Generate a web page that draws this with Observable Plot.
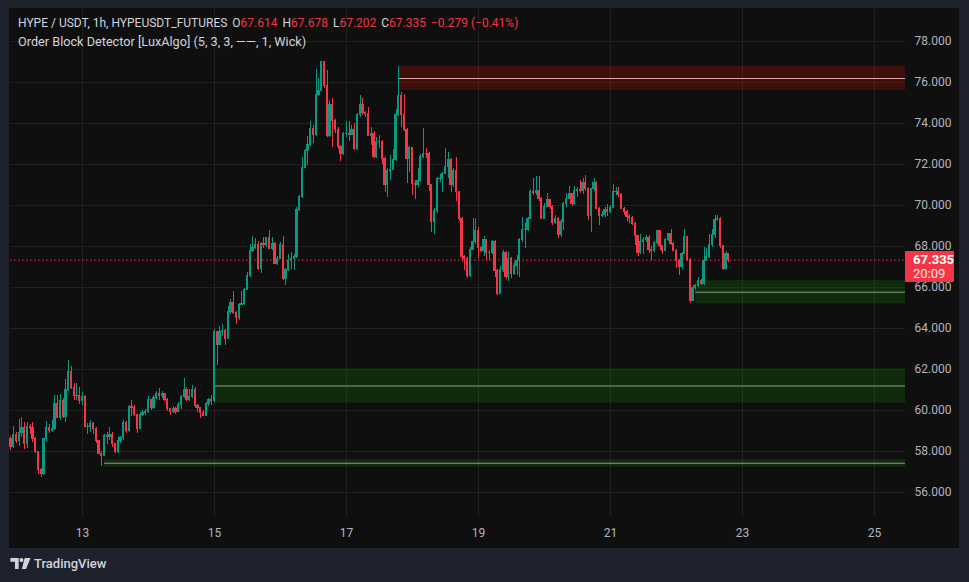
<!DOCTYPE html>
<html><head><meta charset="utf-8">
<script src="https://cdn.jsdelivr.net/npm/d3@7"></script>
<script src="https://cdn.jsdelivr.net/npm/@observablehq/plot@0.6"></script>
<style>
html,body{margin:0;padding:0;background:#1e222d;width:969px;height:582px;overflow:hidden;font-family:Roboto,"Noto Sans",sans-serif;}
#panel{position:absolute;left:9px;top:8px;width:950px;height:540px;background:#0f0f0f;}
#chart{position:absolute;left:0;top:0;}
.hdr{position:absolute;left:9px;color:#d1d4dc;line-height:16px;white-space:nowrap;}
.hdr .r{color:#f23645;}
.hdr .g{margin-left:5px;}
#pl{position:absolute;background:#f23645;color:#fff;font-size:13px;line-height:14px;padding:2px 0 2px 8px;box-sizing:border-box;border-radius:1px;}
#pl b{font-weight:700;display:block;}
#pl span{display:block;color:#ffe7e9;}
#logo{position:absolute;left:10px;top:556px;display:flex;align-items:center;color:#d1d4dc;font-size:13px;font-weight:500;}
</style></head>
<body>
<div id="panel">
  <div id="chart"></div>
  <div class="hdr" style="top:7px;font-size:12px">HYPE / USDT, 1h, HYPEUSDT_FUTURES<span class="g">O<span class="r">67.614</span></span><span class="g">H<span class="r">67.678</span></span><span class="g">L<span class="r">67.202</span></span><span class="g">C<span class="r">67.335</span></span><span class="g r">−0.279 (−0.41%)</span></div>
  <div class="hdr" style="top:26px;font-size:12.7px">Order Block Detector [LuxAlgo] (5, 3, 3, ——, 1, Wick)</div>
  <div id="pl"><b>67.335</b><span>20:09</span></div>
</div>
<div id="logo"><svg width="21" height="11" viewBox="0 0 22 12"><path d="M0 0h9v12h-4v-8h-5z" fill="#d1d4dc"/><circle cx="12" cy="2.3" r="2.2" fill="#d1d4dc"/><path d="M15.5 0h6.5l-5 12h-4.5z" fill="#d1d4dc"/></svg><span style="margin-left:3px">TradingView</span></div>
<script>
// ---- data (1h candles, first candle opens Jan 11 22:00) ----
const firstOpen = 58.62;
const closes = [
58.24,58.8,58.5,58.9,59.15,58.35,59.2,59.15,58.6,57.97,
57.1,56.88,58.6,59.15,59.0,59.1,60.33,59.65,60.44,59.7,
60.98,61.9,61.1,60.7,60.73,60.45,60.65,59.2,59.2,59.35,
59.1,58.5,57.9,57.8,58.77,58.7,58.8,58.35,57.97,58.5,
58.65,59.4,59.0,60.19,60.1,59.76,59.1,59.76,59.87,59.92,
60.49,60.13,60.62,60.81,60.7,60.81,60.52,60.08,59.95,60.08,
59.95,60.29,60.65,60.98,60.52,60.65,61.0,60.2,60.1,59.9,
59.75,60.33,60.49,60.45,63.82,63.2,63.85,63.9,63.5,64.8,
65.25,64.77,64.5,65.15,65.2,65.9,66.58,67.8,67.92,68.05,
66.9,68.13,68.05,68.4,67.9,68.1,67.15,67.4,68.05,66.42,
66.87,67.27,67.4,67.5,69.76,70.4,71.85,72.68,72.96,73.74,
73.45,75.37,75.6,76.99,75.85,73.4,74.9,74.1,73.7,72.85,
72.5,73.5,73.5,73.45,73.66,72.76,74.4,74.88,74.5,74.45,
73.4,73.5,72.36,73.1,73.1,72.28,70.98,71.7,71.75,72.2,
74.4,75.33,74.4,73.7,72.28,72.8,71.06,70.98,71.2,72.36,
72.52,72.5,70.98,69.2,69.75,71.27,71.3,71.55,71.9,72.2,
71.0,71.7,70.65,69.35,67.48,67.4,66.54,67.84,68.21,68.78,
67.93,67.77,68.33,67.67,67.7,68.21,66.8,65.7,66.83,67.67,
66.5,67.4,66.67,67.07,67.3,68.3,68.8,68.8,69.35,70.65,
70.6,70.7,70.3,69.35,69.95,70.27,69.95,69.14,69.35,68.54,
69.2,70.08,70.33,70.57,70.08,70.73,70.76,70.7,71.1,70.8,
69.5,70.8,71.1,69.84,69.5,69.56,69.8,69.7,69.9,70.65,
70.65,70.5,69.84,69.7,69.46,69.4,69.1,68.5,67.7,68.21,
68.33,68.42,67.84,67.8,68.15,68.75,68.0,67.8,68.33,68.6,
68.13,67.8,67.3,67.0,67.64,68.45,67.32,65.35,65.98,66.05,
66.34,66.18,67.3,67.5,68.05,68.54,69.27,69.35,68.0,66.9,
67.614,67.335];
const highs = [
58.75,59.2,58.95,59.55,59.65,59.4,59.4,59.3,59.4,58.7,
58.0,57.15,58.65,59.45,59.3,59.5,60.75,60.75,60.8,60.6,
61.5,62.45,62.15,61.3,61.3,61.1,60.9,60.75,59.35,59.5,
59.4,59.15,58.55,58.0,58.85,58.95,59.15,58.95,58.4,58.75,
58.75,59.5,59.45,60.25,60.5,60.25,59.8,59.9,60.0,60.05,
60.7,60.55,60.75,60.95,61.06,60.95,60.85,60.6,60.1,60.2,
60.15,60.4,60.75,61.54,61.1,61.0,61.2,61.1,60.3,60.15,
60.0,60.4,60.6,60.75,63.95,63.85,64.1,64.2,63.95,65.05,
65.4,65.8,64.85,65.2,65.8,65.95,66.75,68.1,68.5,68.4,
68.25,68.2,68.45,68.45,68.8,68.45,68.2,67.5,68.2,68.5,
66.95,67.6,67.7,67.6,69.9,70.5,72.35,72.75,73.35,74.1,
73.9,76.65,76.2,77.02,77.0,76.6,75.1,75.2,74.2,73.8,
72.95,73.55,74.1,74.1,73.9,74.0,74.5,75.37,75.2,74.6,
74.8,73.8,73.6,73.3,73.4,73.15,72.35,71.8,72.45,72.75,
74.7,76.78,75.5,75.4,73.75,72.9,72.85,71.2,71.8,72.5,
73.74,72.8,72.6,71.0,69.85,71.35,71.5,71.6,72.8,72.6,
72.3,71.8,72.35,70.7,69.4,67.55,67.45,67.95,69.35,69.35,
68.95,68.0,68.5,68.35,67.8,68.3,68.3,66.9,67.0,67.8,
67.75,67.7,67.45,67.2,67.55,68.4,69.4,69.1,69.4,70.8,
71.3,71.4,71.4,70.4,70.1,70.57,70.3,70.0,69.5,69.4,
69.3,70.15,70.6,70.95,70.6,70.95,70.9,71.2,71.3,71.45,
70.9,70.85,71.3,71.15,69.9,69.7,69.9,70.05,70.0,71.0,
70.9,70.9,70.6,69.9,69.75,69.55,69.45,69.15,68.55,68.6,
68.45,68.55,68.55,68.0,68.25,68.8,68.8,68.05,68.4,68.65,
68.85,68.2,67.85,67.35,67.7,68.85,68.5,67.4,66.1,66.15,
66.5,66.4,67.95,67.9,68.6,68.85,69.5,69.5,69.4,68.05,
67.75,67.678];
const lows = [
58.05,58.15,58.4,58.25,58.7,58.1,58.15,58.85,58.45,57.9,
56.9,56.75,56.85,58.5,58.9,58.95,59.0,59.6,59.5,59.6,
59.4,60.95,61.0,60.5,60.5,60.3,60.25,59.15,58.85,58.95,
58.85,58.4,57.85,57.25,57.75,58.35,58.55,58.2,57.9,57.92,
58.4,58.55,58.9,58.95,59.7,59.7,58.9,59.05,59.7,59.75,
59.85,60.0,60.05,60.55,60.5,60.6,60.45,59.95,59.76,59.85,
59.8,59.9,60.05,60.6,60.45,60.45,60.6,60.1,59.9,59.6,
59.7,59.7,60.2,60.25,60.4,62.2,63.15,63.6,63.15,63.45,
64.7,64.7,64.2,64.4,65.1,65.1,65.85,66.5,67.7,67.85,
66.85,66.7,67.9,67.95,67.85,67.8,67.1,67.05,67.35,66.35,
66.1,66.8,66.9,66.85,67.4,69.7,70.35,71.8,71.95,72.9,
73.0,73.35,75.3,75.55,75.7,73.3,73.3,72.85,73.5,72.75,
72.15,72.45,73.3,73.1,73.4,72.7,72.7,74.3,74.4,74.3,
73.35,72.95,72.3,72.3,72.8,72.0,70.65,70.4,71.2,71.7,
72.15,74.35,73.8,73.6,71.05,71.6,70.5,70.3,70.9,71.1,
72.3,72.3,70.7,68.7,68.6,69.6,71.1,70.65,71.5,71.3,
70.65,70.9,70.2,69.2,67.2,66.85,66.45,66.5,67.8,68.1,
67.4,67.7,67.5,67.3,67.3,67.6,66.5,65.6,65.65,66.75,
66.4,66.3,66.45,66.6,66.6,66.5,68.2,67.9,68.75,69.3,
70.5,70.5,70.2,69.3,69.3,69.9,69.8,69.0,69.05,68.4,
68.45,68.8,69.9,70.3,69.95,70.0,70.4,70.6,70.55,70.7,
69.25,68.7,70.7,69.8,69.0,69.4,69.4,69.45,69.6,69.85,
70.5,70.4,69.8,69.5,69.2,69.1,69.0,68.05,67.5,67.6,
67.6,68.2,67.65,67.3,67.7,68.1,67.8,67.6,67.75,68.25,
68.05,67.75,66.95,66.6,66.9,67.6,67.25,65.2,65.3,65.85,
66.0,66.1,66.1,67.25,67.4,67.95,68.4,69.2,67.9,66.83,
66.85,67.202];
// Order blocks (LuxAlgo): kind, starting candle index, top, bottom
const obKind   = ["bear", "bull", "bull", "bull"];
const obStart  = [141, 249, 74, 34];
const obTop    = [76.78, 66.34, 62.03, 57.61];
const obBottom = [75.61, 65.20, 60.36, 57.24];
// axis ticks
const yTicks = [56, 58, 60, 62, 64, 66, 68, 70, 72, 74, 76, 78];
const xTickDays = [13, 15, 17, 19, 21, 23, 25];
const lastPrice = 67.335;

// ---- build ----
const H = 3600e3;
const t0 = Date.UTC(2026, 0, 11, 22);
const day13 = Date.UTC(2026, 0, 13);
const xDomain = [new Date(day13 - 26.18 * H), new Date(day13 + 299.27 * H)];
const yDomain = [54.78, 79.561];
const GREEN = "#089981", RED = "#f23645";

const candles = closes.map((c, i) => {
  const o = i === 0 ? firstOpen : closes[i - 1];
  return {t: new Date(t0 + i * H), o, c,
    h: Math.max(highs[i], o, c), l: Math.min(lows[i], o, c),
    col: c >= o ? GREEN : RED};
});
const obs = obKind.map((k, i) => ({
  x1: new Date(t0 + obStart[i] * H), x2: xDomain[1],
  top: obTop[i], bottom: obBottom[i], mid: (obTop[i] + obBottom[i]) / 2,
  fill: k === "bull" ? "#169400" : "#ff1100",
  line: k === "bull" ? "#8c9a8c" : "#d8a8a8"
}));
const tickDates = xTickDays.map(d => new Date(Date.UTC(2026, 0, d)));

const plot = Plot.plot({
  width: 950, height: 540,
  marginLeft: 1, marginRight: 54, marginTop: 1, marginBottom: 31,
  style: {background: "transparent", color: "#b2b5be", fontFamily: "Roboto, sans-serif", fontSize: "12px", overflow: "visible"},
  color: {type: "identity"},
  x: {type: "utc", domain: xDomain},
  y: {domain: yDomain},
  marks: [
    Plot.gridY(yTicks, {stroke: "#222222", strokeOpacity: 1}),
    Plot.gridX(tickDates, {stroke: "#222222", strokeOpacity: 1}),
    Plot.rect(obs, {x1: "x1", x2: "x2", y1: "bottom", y2: "top", fill: "fill", fillOpacity: 0.2}),
    Plot.ruleY(obs, {x1: "x1", x2: "x2", y: "mid", stroke: "line", strokeWidth: 1}),
    Plot.ruleX(candles, {x: "t", y1: "l", y2: "h", stroke: "col", strokeWidth: 1, shapeRendering: "crispEdges"}),
    Plot.rect(candles, {x1: d => new Date(+d.t - 25 * 60e3), x2: d => new Date(+d.t + 25 * 60e3),
      y1: "o", y2: "c", fill: "col", insetTop: -0.5, insetBottom: -0.5, shapeRendering: "crispEdges"}),
    Plot.ruleY([lastPrice], {stroke: RED, strokeWidth: 1, strokeDasharray: "1.5,2.5"}),
    Plot.axisY(yTicks, {anchor: "right", tickSize: 0, tickPadding: 9, tickFormat: d3.format(".3f"), label: null, fill: "#b2b5be", fontSize: 12}),
    Plot.axisX(tickDates, {anchor: "bottom", tickSize: 0, tickPadding: 11, tickFormat: d => String(d.getUTCDate()), label: null, fill: "#b2b5be", fontSize: 12})
  ]
});
document.getElementById("chart").appendChild(plot);

// last price label positioned with the chart's own scales
const ys = plot.scale("y"), xs = plot.scale("x");
const yp = ys.apply(lastPrice);
const xr = xs.apply(xDomain[1]);
const pl = document.getElementById("pl");
pl.style.left = xr + "px";
pl.style.top = (yp - 8.5) + "px";
pl.style.width = "49px";
pl.style.height = "31px";
</script>
</body></html>
